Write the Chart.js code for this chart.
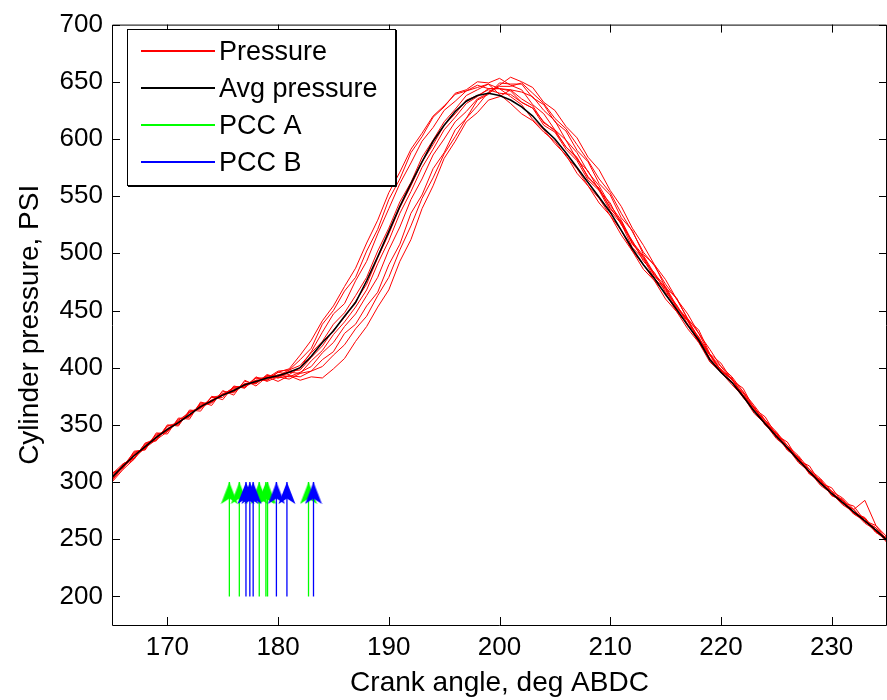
<!DOCTYPE html>
<html>
<head>
<meta charset="utf-8">
<script src="https://cdn.jsdelivr.net/npm/chart.js@4/dist/chart.umd.min.js"></script>
<style>
  html, body { margin: 0; padding: 0; background: #fff; }
  #c { display: block; }
</style>
</head>
<body>
<canvas id="c" width="887" height="700"></canvas>
<script>
// ---------------- DATA ----------------
const angles = [165,166,167,168,169,170,171,172,173,174,
  175,176,177,178,179,180,181,182,183,184,
  185,186,187,188,189,190,191,192,193,194,
  195,196,197,198,199,200,201,202,203,204,
  205,206,207,208,209,210,211,212,213,214,
  215,216,217,218,219,220,221,222,223,224,
  225,226,227,228,229,230,231,232,233,234,
  235];

const avgPressure = [304,314,323,331,339,346,352,359,366,371,
  376,380,385,388,391,393,396,400,410,422,
  432,445,457,476,497,519,541,561,580,598,
  612,624,633,638,640,638,634,628,620,609,
  600,588,575,562,549,536,520,504,490,478,
  464,451,437,424,407,396,387,375,362,351,
  340,330,319,309,299,290,282,274,266,258,
  249];

const pressure1 = [301,314,320,333,337,349,350,362,364,374,
  374,383,383,391,389,396,394,400,414,431,
  447,456,476,493,517,539,561,579,598,610,
  625,633,642,645,648,644,642,632,627,612,
  606,591,581,564,555,537,526,505,495,478,
  468,450,441,423,411,396,391,374,366,350,
  343,329,322,308,302,289,285,273,269,257,
  251];
const pressure2 = [307,314,326,329,342,344,355,357,369,369,
  379,378,388,386,394,391,396,395,406,415,
  429,440,453,468,491,511,535,554,575,591,
  608,619,631,637,644,644,643,635,629,614,
  608,593,584,566,557,539,528,508,497,480,
  470,452,442,425,412,397,390,375,365,350,
  343,328,322,307,302,289,284,273,268,256,
  251];
const pressure3 = [300,311,320,334,336,350,349,363,362,375,
  372,384,382,392,388,392,390,395,397,407,
  414,430,438,454,466,490,508,535,551,574,
  588,608,618,634,639,649,648,648,636,630,
  615,607,590,580,561,551,531,520,499,490,
  470,461,442,433,412,404,389,382,364,357,
  341,335,319,314,299,295,282,279,266,262,
  249];
const pressure4 = [308,312,327,328,343,342,356,355,370,367,
  380,376,389,384,392,388,393,389,392,391,
  399,408,423,436,453,468,493,512,539,559,
  583,598,615,623,634,637,643,641,637,625,
  616,599,588,571,559,542,529,510,498,482,
  471,454,442,426,412,398,390,376,365,351,
  343,329,321,308,301,288,284,272,268,256,
  251];
const pressure5 = [303,316,321,334,338,349,352,361,365,374,
  376,383,384,391,391,397,398,407,417,438,
  450,467,479,502,521,547,565,588,602,619,
  628,640,643,650,649,653,647,643,630,622,
  608,599,582,572,555,544,525,511,493,483,
  466,455,438,427,408,399,387,378,362,353,
  339,332,318,311,298,292,281,276,265,260,
  248];
const pressure6 = [306,313,325,330,339,345,353,357,368,370,
  377,380,386,387,393,393,398,402,413,423,
  438,448,463,479,502,522,545,562,584,599,
  615,626,638,643,648,639,631,622,616,606,
  598,585,574,559,548,533,520,502,490,476,
  465,449,438,422,408,396,387,374,363,350,
  341,328,320,307,300,289,282,272,266,256,
  249];
const pressure7 = [302,312,324,331,341,345,352,358,367,371,
  376,379,385,387,392,391,393,392,397,401,
  411,420,434,445,463,479,503,524,548,566,
  587,602,618,629,641,647,654,650,645,632,
  625,611,601,584,573,555,541,522,507,490,
  477,460,447,430,416,401,392,379,367,354,
  344,332,323,311,303,292,286,276,284,262,
  252];
const pressure8 = [305,313,324,329,340,346,353,358,366,371,
  377,379,386,386,393,392,397,398,409,419,
  433,444,458,473,496,517,540,559,580,595,
  612,622,634,638,643,640,639,632,627,615,
  607,593,583,567,556,540,527,509,496,481,
  469,453,441,425,411,398,390,376,365,352,
  343,330,321,309,301,290,284,274,268,257,
  251];
const pressure9 = [307,316,321,330,337,344,354,361,365,370,
  377,382,383,389,389,394,392,396,401,413,
  422,436,447,463,479,503,523,547,565,586,
  600,615,624,635,640,646,646,649,640,631,
  618,609,595,581,565,553,535,519,501,489,
  473,460,443,430,411,401,389,379,364,354,
  341,332,320,311,300,292,282,276,266,260,
  249];
const pressure10 = [302,315,321,332,339,347,351,361,365,372,
  376,381,385,389,390,396,399,411,424,441,
  454,471,487,509,529,553,571,591,605,620,
  629,639,642,647,644,644,637,630,617,608,
  596,586,570,559,544,533,516,502,486,476,
  460,449,434,422,405,396,385,375,360,351,
  338,330,317,309,297,290,280,274,264,258,
  247];

// arrow (PCC) crank angles
const pccA = [175.6, 176.5, 178.3, 178.9, 179.05, 182.75];
const pccB = [177.1, 177.45, 177.75, 179.85, 180.8, 183.2];
const arrowBase = 200;
const arrowTip = 300;

// tick labels
const xTicks = [170, 180, 190, 200, 210, 220, 230];
const yTicks = [200, 250, 300, 350, 400, 450, 500, 550, 600, 650, 700];

const seriesLabels = ['Pressure', 'Avg pressure', 'PCC A', 'PCC B'];
// --------------------------------------

const FONT = "'Liberation Sans', Arial, Helvetica, sans-serif";
Chart.defaults.font.family = FONT;
Chart.defaults.color = '#000';

const RED = '#ff0000', BLACK = '#000000', GREEN = '#00ff00', BLUE = '#0000ff';
const seriesColors = [RED, BLACK, GREEN, BLUE];

function arrowHead(color) {
  const c = document.createElement('canvas');
  c.width = 18; c.height = 46;
  const g = c.getContext('2d');
  g.fillStyle = color;
  g.beginPath();
  g.moveTo(9, 23);
  g.lineTo(17.5, 45);
  g.lineTo(9, 39.5);
  g.lineTo(0.5, 45);
  g.closePath();
  g.fill();
  return c;
}
const headA = arrowHead(GREEN);
const headB = arrowHead(BLUE);

const toXY = vals => angles.map((a, i) => ({ x: a, y: vals[i] }));
const arrowData = xs => {
  const out = [];
  xs.forEach(v => { out.push({ x: v, y: arrowBase }, { x: v, y: arrowTip }, { x: v, y: null }); });
  return out;
};

const reds = [pressure1, pressure2, pressure3, pressure4, pressure5,
              pressure6, pressure7, pressure8, pressure9, pressure10];

const datasets = [];
reds.forEach(r => datasets.push({
  label: seriesLabels[0], data: toXY(r), borderColor: RED, borderWidth: 1,
  pointRadius: 0, tension: 0, order: 3
}));
datasets.push({
  label: seriesLabels[1], data: toXY(avgPressure), borderColor: BLACK, borderWidth: 1.6,
  pointRadius: 0, tension: 0, order: 2
});
function arrowDs(label, xs, color, head, order) {
  return {
    label, data: arrowData(xs), borderColor: color, backgroundColor: color,
    borderWidth: 1.3, tension: 0, spanGaps: false, order,
    pointStyle: c => (c.raw && c.raw.y === arrowTip ? head : 'circle'),
    pointRadius: c => (c.raw && c.raw.y === arrowTip ? 4 : 0),
    pointBorderWidth: 0
  };
}
datasets.push(arrowDs(seriesLabels[2], pccA, GREEN, headA, 1));
datasets.push(arrowDs(seriesLabels[3], pccB, BLUE, headB, 0));

const framePlugin = {
  id: 'frame',
  afterDraw(chart) {
    const { ctx, chartArea: a, scales: { x, y } } = chart;
    ctx.save();
    ctx.strokeStyle = '#000';
    ctx.lineWidth = 1;
    // box
    ctx.beginPath();
    ctx.moveTo(a.left + 0.5, a.top + 0.5);
    ctx.lineTo(a.right - 0.5, a.top + 0.5);
    ctx.lineTo(a.right - 0.5, a.bottom + 0.5);
    ctx.lineTo(a.left + 0.5, a.bottom + 0.5);
    ctx.closePath();
    ctx.stroke();
    // inward ticks
    const L = 8;
    ctx.beginPath();
    x.ticks.forEach(t => {
      const px = Math.round(x.getPixelForValue(t.value)) + 0.5;
      ctx.moveTo(px, a.bottom); ctx.lineTo(px, a.bottom - L);
      ctx.moveTo(px, a.top); ctx.lineTo(px, a.top + L);
    });
    y.ticks.forEach(t => {
      const py = Math.round(y.getPixelForValue(t.value)) + 0.5;
      ctx.moveTo(a.left, py); ctx.lineTo(a.left + L, py);
      ctx.moveTo(a.right, py); ctx.lineTo(a.right - L, py);
    });
    ctx.stroke();

    // legend
    const lx = 127, ly = 29, lw = 268, lh = 156;
    ctx.fillStyle = '#fff';
    ctx.fillRect(lx, ly, lw, lh);
    ctx.strokeStyle = '#000';
    ctx.lineWidth = 1;
    ctx.strokeRect(lx + 0.5, ly + 0.5, lw, lh);
    ctx.beginPath();
    ctx.moveTo(lx + lw + 1.5, ly + 1); ctx.lineTo(lx + lw + 1.5, ly + lh + 1.5);
    ctx.lineTo(lx + 1, ly + lh + 1.5);
    ctx.stroke();
    ctx.font = '27px ' + FONT;
    ctx.textBaseline = 'middle';
    ctx.textAlign = 'left';
    seriesLabels.forEach((label, i) => {
      const ry = Math.round(ly + 22 + i * 37);
      ctx.fillStyle = seriesColors[i];
      ctx.fillRect(141, ry - 1, 74, 2);
      ctx.fillStyle = '#000';
      ctx.fillText(label, 219, ry + 1.5);
    });
    ctx.restore();
  }
};

new Chart(document.getElementById('c'), {
  type: 'line',
  data: { datasets },
  options: {
    responsive: false,
    animation: false,
    events: [],
    layout: { padding: { top: 16, right: 0, bottom: 0, left: 0 } },
    plugins: { legend: { display: false }, tooltip: { enabled: false } },
    scales: {
      x: {
        type: 'linear', min: 165, max: 235,
        afterBuildTicks: s => { s.ticks = xTicks.map(v => ({ value: v })); },
        afterFit: s => { s.height = 75; },
        grid: { display: false, drawTicks: false },
        border: { display: false },
        ticks: { padding: 7, font: { size: 26 }, color: '#000', maxRotation: 0 },
        title: { display: true, text: 'Crank angle, deg ABDC', font: { size: 28 }, color: '#000', padding: { top: 0, bottom: 0 } }
      },
      y: {
        type: 'linear', min: 175, max: 700,
        afterBuildTicks: s => { s.ticks = yTicks.map(v => ({ value: v })); },
        afterFit: s => { s.width = 112; },
        grid: { display: false, drawTicks: false },
        border: { display: false },
        ticks: { padding: 9, font: { size: 26 }, color: '#000' },
        title: { display: true, text: 'Cylinder pressure, PSI', font: { size: 28 }, color: '#000', padding: { top: 13, bottom: 0 } }
      }
    }
  },
  plugins: [framePlugin]
});
</script>
</body>
</html>
